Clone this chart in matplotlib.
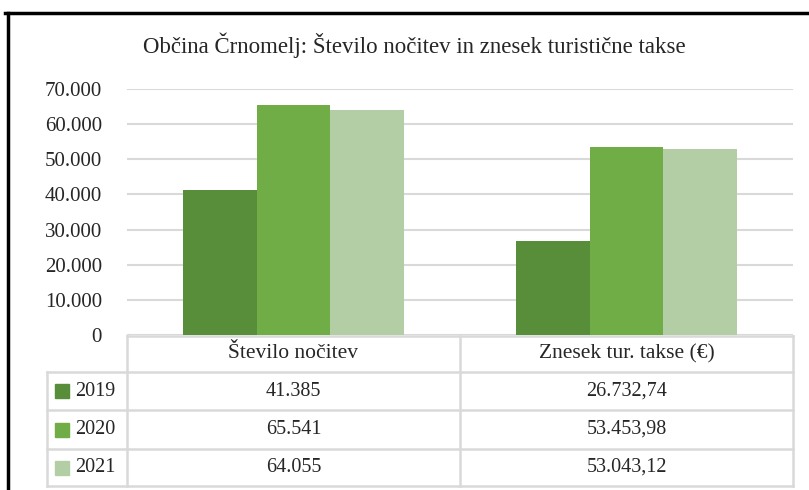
import matplotlib
matplotlib.use("Agg")
import matplotlib.pyplot as plt
from matplotlib.lines import Line2D
from matplotlib.patches import Rectangle
from matplotlib.ticker import FuncFormatter

title = "Občina Črnomelj: Število nočitev in znesek turistične takse"
categories = ["Število nočitev", "Znesek tur. takse (€)"]
years = ["2019", "2020", "2021"]
values_2019 = [41385, 26732.74]
values_2020 = [65541, 53453.98]
values_2021 = [64055, 53043.12]
series = [values_2019, values_2020, values_2021]
colors = ["#588E39", "#70AD47", "#B3CEA5"]
yticks = [0, 10000, 20000, 30000, 40000, 50000, 60000, 70000]

FONT = "Liberation Serif"
TXT = "#262626"
GRID = "#D9D9D9"

W, H = 809, 490
fig = plt.figure(figsize=(W / 100, H / 100), dpi=100)
fig.patch.set_facecolor("white")

def fx(px):
    return px / W

def fy(py):
    return 1 - py / H

# plot area
ax_left, ax_right, ax_top, ax_bottom = 127, 793, 89, 335
ax = fig.add_axes([fx(ax_left), fy(ax_bottom), fx(ax_right - ax_left), (ax_bottom - ax_top) / H])

def fmt_int(v):
    return f"{v:,.0f}".replace(",", ".")

def fmt_dec(v):
    return f"{v:,.2f}".replace(",", "X").replace(".", ",").replace("X", ".")

n = len(series)
bw = 0.222
for i, (vals, col) in enumerate(zip(series, colors)):
    xs = [k + (i - (n - 1) / 2) * bw for k in range(len(categories))]
    ax.bar(xs, vals, width=bw, color=col, zorder=3)

ax.set_xlim(-0.5, len(categories) - 0.5)
ax.set_ylim(0, 70000)
ax.set_yticks(yticks)
ax.yaxis.set_major_formatter(FuncFormatter(lambda v, p: fmt_int(v)))
ax.grid(axis="y", color=GRID, linewidth=1.5, zorder=0)
ax.set_xticks([])
for s in ax.spines.values():
    s.set_visible(False)
ax.tick_params(axis="y", length=0, pad=18, labelsize=15, labelcolor=TXT)
for lab in ax.get_yticklabels():
    lab.set_fontfamily(FONT)

# title
fig.text(fx(414), fy(45), title, ha="center", va="center", fontsize=16.5,
         family=FONT, color=TXT)

# data table
col_x = [47, 127, 460, 793]
row_y = [336, 372, 410, 449, 486]
lw = 1.8

def hline(x0, x1, y):
    fig.add_artist(Line2D([fx(x0), fx(x1)], [fy(y), fy(y)], color=GRID, lw=lw))

def vline(x, y0, y1):
    fig.add_artist(Line2D([fx(x), fx(x)], [fy(y0), fy(y1)], color=GRID, lw=lw))

hline(col_x[1], col_x[3], row_y[0])
for y in row_y[1:]:
    hline(col_x[0], col_x[3], y)
vline(col_x[0], row_y[1], row_y[4])
vline(col_x[1], row_y[0], row_y[4])
vline(col_x[2], row_y[0], row_y[4])
vline(col_x[3], row_y[0], row_y[4])

for j, cat in enumerate(categories):
    cx = (col_x[j + 1] + col_x[j + 2]) / 2
    fig.text(fx(cx), fy((row_y[0] + row_y[1]) / 2), cat, ha="center", va="center",
             fontsize=15.5, family=FONT, color=TXT)

formatters = [fmt_int, fmt_dec]
for i, (yr, vals, col) in enumerate(zip(years, series, colors)):
    cy = (row_y[i + 1] + row_y[i + 2]) / 2
    fig.add_artist(Rectangle((fx(55), fy(cy + 7)), fx(14), 14 / H, color=col,
                             transform=fig.transFigure))
    fig.text(fx(75), fy(cy), yr, ha="left", va="center", fontsize=14.5,
             family=FONT, color=TXT)
    for j, v in enumerate(vals):
        cx = (col_x[j + 1] + col_x[j + 2]) / 2
        fig.text(fx(cx), fy(cy), formatters[j](v), ha="center", va="center",
                 fontsize=14.5, family=FONT, color=TXT)

# outer frame (top and left)
fig.add_artist(Line2D([fx(5), 1], [fy(13), fy(13)], color="black", lw=2.5))
fig.add_artist(Line2D([fx(8), fx(8)], [fy(13), 0], color="black", lw=2.5))

fig.savefig("out.png", dpi=100, facecolor="white")
